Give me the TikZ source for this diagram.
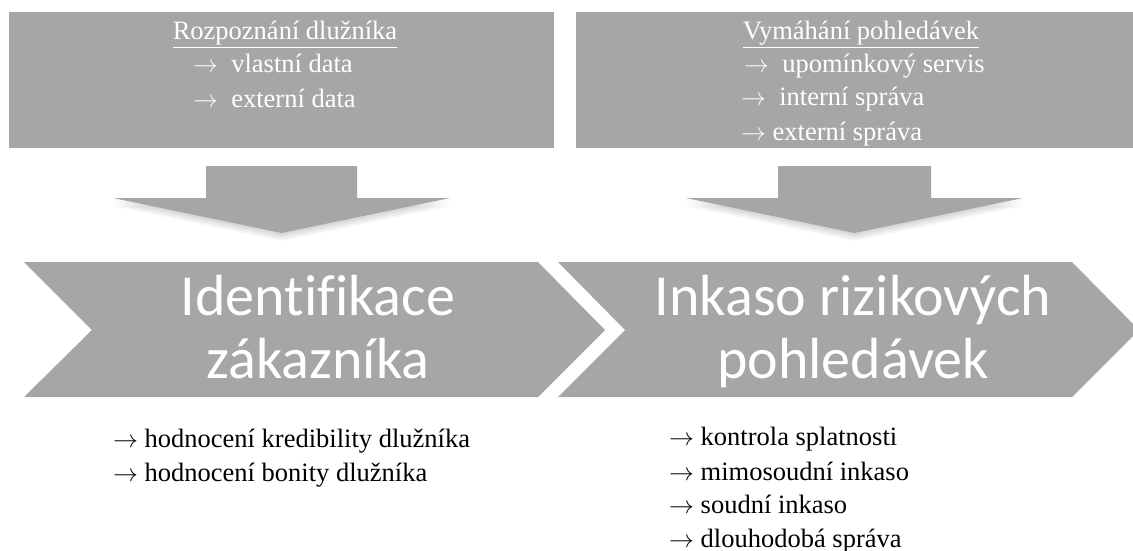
\documentclass[tikz,border=0pt]{standalone}
\usepackage{fontspec}
\setmainfont{Liberation Serif}
\newfontfamily\calib[Ligatures=NoCommon]{Carlito}
\definecolor{boxgray}{RGB}{166,166,166}
\newcommand{\arr}{$\rightarrow$}
\begin{document}
\begin{tikzpicture}[x=1pt,y=-1pt,
  grayshape/.style={fill=boxgray,draw=none},
  headshadow/.style={fill=black,opacity=0.03,draw=none},
  boxtext/.style={text=white,font=\fontsize{26.5}{30}\selectfont,inner sep=0pt},
  chevtext/.style={text=white,font=\calib\fontsize{58}{63}\selectfont,inner sep=0pt},
  listtext/.style={text=black,font=\fontsize{26.5}{30}\selectfont,inner sep=0pt}]
\useasboundingbox (0,0) rectangle (1133,551);
\clip (0,0) rectangle (1133,551);
\fill[white] (0,0) rectangle (1133,551);

% top boxes
\fill[grayshape] (9,12) rectangle (554,148);
\fill[grayshape] (576,12) rectangle (1175,148);

% shadows of arrow heads
\foreach \k in {1,...,5}{
  \fill[headshadow] (113,{198+1.6*\k}) -- (450,{198+1.6*\k}) -- (281.5,{233+1.6*\k}) -- cycle;
  \fill[headshadow] (686,{198+1.6*\k}) -- (1023,{198+1.6*\k}) -- (854.5,{233+1.6*\k}) -- cycle;
}
% down arrows
\fill[grayshape] (206,166) -- (357,166) -- (357,198) -- (450,198) -- (281.5,233) -- (113,198) -- (206,198) -- cycle;
\fill[grayshape] (778,166) -- (931,166) -- (931,198) -- (1023,198) -- (854.5,233) -- (686,198) -- (778,198) -- cycle;

% chevrons
\fill[grayshape] (24,262) -- (538,262) -- (605,330) -- (538,397) -- (24,397) -- (92,330) -- cycle;
\fill[grayshape] (558,262) -- (1072,262) -- (1139,330) -- (1072,397) -- (558,397) -- (625,330) -- cycle;

% top left box text
\node[boxtext,anchor=base] (lt1) at (285,40) {\underline{Rozpoznání dlužníka}};
\node[boxtext,anchor=base west] (lt2) at (193,73) {\arr\ \ vlastní data};
\node[boxtext,anchor=base west] (lt3) at (193,107) {\arr\ \ externí data};

% top right box text
\node[boxtext,anchor=base] (rt1) at (861,40) {\underline{Vymáhání pohledávek}};
\node[boxtext,anchor=base west] (rt2) at (744,73) {\arr\ \ upomínkový servis};
\node[boxtext,anchor=base west] (rt3) at (741,106) {\arr\ \ interní správa};
\node[boxtext,anchor=base west] (rt4) at (741,140) {\arr\ externí správa};

% chevron text
\node[chevtext,anchor=base] (c1a) at (318,315) {Identifikace};
\node[chevtext,anchor=base] (c1b) at (318,378) {zákazníka};
\node[chevtext,anchor=base] (c2a) at (853,315) {Inkaso rizikových};
\node[chevtext,anchor=base] (c2b) at (853,378) {pohledávek};

% bottom lists
\node[listtext,anchor=base west] (lb1) at (113,447) {\arr\ hodnocení kredibility dlužníka};
\node[listtext,anchor=base west] (lb2) at (113,481) {\arr\ hodnocení bonity dlužníka};
\node[listtext,anchor=base west] (rb1) at (669,445) {\arr\ kontrola splatnosti};
\node[listtext,anchor=base west] (rb2) at (669,480) {\arr\ mimosoudní inkaso};
\node[listtext,anchor=base west] (rb3) at (669,513) {\arr\ soudní inkaso};
\node[listtext,anchor=base west] (rb4) at (669,547) {\arr\ dlouhodobá správa};
\end{tikzpicture}
\end{document}
